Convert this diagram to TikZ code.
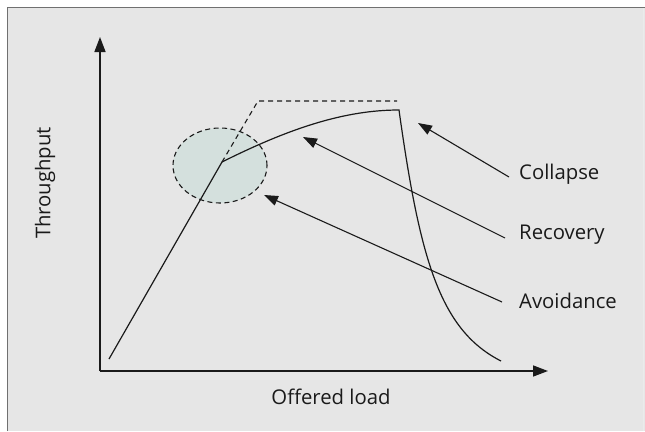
\documentclass[tikz,border=0pt]{standalone}
\usepackage{fontspec}
\setmainfont{Open Sans}
\usetikzlibrary{arrows.meta,shapes.geometric}
\definecolor{panel}{HTML}{E6E6E6}
\definecolor{frameline}{HTML}{707070}
\definecolor{zone}{HTML}{D4E0DD}
\definecolor{ink}{HTML}{1A1A1A}
\tikzset{
  axis/.style={line width=1.5pt, draw=ink, -{Triangle[length=15pt,width=11pt]}},
  curve/.style={line width=1.2pt, draw=ink},
  dashcurve/.style={line width=1.1pt, draw=ink, dash pattern=on 5pt off 4pt},
  pointer/.style={line width=1.1pt, draw=ink, -{Triangle[length=14pt,width=10pt]}},
  lbl/.style={font=\fontsize{20.3}{24}\selectfont, text=ink, inner sep=0pt},
  zonestyle/.style={ellipse, fill=zone, draw=ink, line width=1.1pt, dash pattern=on 5pt off 3.5pt,
    minimum width=94pt, minimum height=75pt, inner sep=0pt}
}
\begin{document}
\begin{tikzpicture}[x=1pt,y=-1pt]
\useasboundingbox (0,0) rectangle (645,431);
\fill[white] (0,0) rectangle (645,431);
\fill[panel] (7.5,7.5) rectangle (645,431);
\draw[frameline, line width=1.5pt] (7.5,431) -- (7.5,7.5) -- (645,7.5);
\draw[white!92!black, line width=0.8pt] (643.5,8) -- (643.5,431);
% avoidance zone
\node[zonestyle] (zone) at (220,165.5) {};
% key points
\coordinate (start) at (109,359);
\coordinate (knee) at (222,162);
\coordinate (dcorner) at (258,101);
\coordinate (dend) at (397,101);
\coordinate (peak) at (399,110);
\coordinate (tail) at (501,361);
% curves
\draw[dashcurve] (knee) -- (dcorner) -- (dend);
\draw[curve] (start) -- (knee) .. controls (290,128) and (345,110) .. (peak)
  .. controls (420,260) and (440,330) .. (tail);
% axes
\coordinate (origin) at (100,371);
\coordinate (ytip) at (100,37);
\coordinate (xtip) at (548,371);
\draw[axis] (origin) -- (ytip);
\draw[axis] (origin) -- (xtip);
% labels
\node[lbl, rotate=90] (ylabel) at (45,183) {Throughput};
\node[lbl] (xlabel) at (331,397) {Offered load};
\node[lbl, anchor=west] (collapse) at (519,174) {Collapse};
\node[lbl, anchor=west] (recovery) at (519,235) {Recovery};
\node[lbl, anchor=west] (avoid) at (519,301) {Avoidance};
% pointer tips
\coordinate (ctip) at (418,123);
\coordinate (rtip) at (303,137);
\coordinate (atip) at (264,195);
\draw[pointer] ([xshift=-10pt,yshift=-3pt]collapse.west) -- (ctip);
\draw[pointer] ([xshift=-14pt,yshift=-3pt]recovery.west) -- (rtip);
\draw[pointer] ([xshift=-17pt,yshift=-1pt]avoid.west) -- (atip);
\end{tikzpicture}
\end{document}
